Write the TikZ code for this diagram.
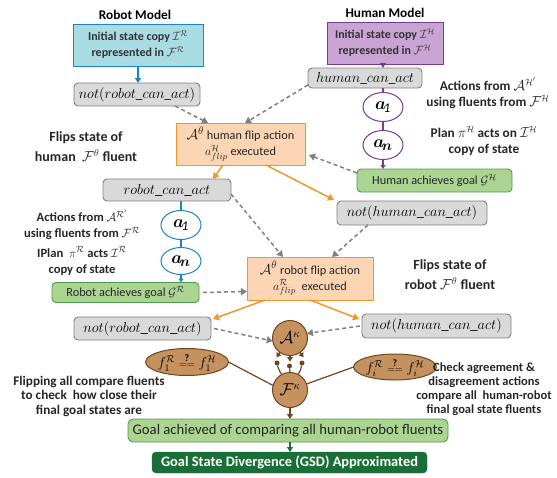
\documentclass[tikz,border=0pt]{standalone}
\usepackage{amsmath,amssymb,bm}
\usepackage{fontspec}
\setmainfont{Carlito}
\usetikzlibrary{arrows.meta,shapes.geometric,calc}
\definecolor{rfill}{HTML}{A9DBE3}
\definecolor{rline}{HTML}{1A85C0}
\definecolor{hfill}{HTML}{C9A3D3}
\definecolor{hline}{HTML}{7C3B93}
\definecolor{gfill}{HTML}{D9D9D9}
\definecolor{gline}{HTML}{808080}
\definecolor{ofill}{HTML}{FCD5B5}
\definecolor{oline}{HTML}{F2962A}
\definecolor{grfill}{HTML}{ABD391}
\definecolor{grline}{HTML}{4E9A4E}
\definecolor{dgreen}{HTML}{1B6E37}
\definecolor{bfill}{HTML}{C4915F}
\definecolor{bline}{HTML}{70461F}
\newcommand{\fs}[1]{\fontsize{#1}{#1}\selectfont}
\tikzset{
  every node/.style={inner sep=0pt, outer sep=0pt},
  title/.style={font=\fs{13.3}\bfseries},
  note/.style={align=center, text=black!85},
  bignote/.style={align=center, font=\fontsize{14}{20}\selectfont\bfseries, text=black!85},
  robotbox/.style={draw=rline, fill=rfill, line width=1pt, align=center, font=\fontsize{12}{16}\selectfont\bfseries, text=black!80},
  humanbox/.style={draw=hline, fill=hfill, line width=1pt, align=center, font=\fontsize{12}{16}\selectfont\bfseries, text=black!80},
  graybox/.style={draw=gline, fill=gfill, rounded corners=4pt, line width=0.9pt},
  flipbox/.style={draw=oline, fill=ofill, line width=1pt, align=center, font=\fontsize{12.3}{16}\selectfont, text=black!85},
  goalbox/.style={draw=grline, fill=grfill, rounded corners=4pt, line width=0.9pt, font=\fs{12.3}, text=black!85},
  act/.style={ellipse, draw, line width=1pt, fill=white, minimum width=40, minimum height=29},
  kappa/.style={circle, draw=bline, fill=bfill, line width=1pt, minimum size=35},
  fcmp/.style={ellipse, draw=bline, fill=bfill, line width=1pt, minimum width=77, minimum height=27},
  dsh/.style={draw=gline, line width=1.5pt, dash pattern=on 4pt off 3pt, -{Triangle[length=6pt,width=7pt]}},
  oarr/.style={draw=oline, line width=1.5pt, -{Triangle[length=6pt,width=7pt]}},
  barr/.style={draw=bline, line width=1.2pt},
  dot/.style={circle, fill=bline, minimum size=5},
}
\begin{document}
\begin{tikzpicture}[x=1pt,y=-1pt]
\useasboundingbox (0,0) rectangle (557,477);

% titles
\node[title] (rm) at (135,15) {Robot Model};
\node[title] (hm) at (385,13) {Human Model};

% robot side
\node[robotbox, minimum width=130, minimum height=42] (ri) at (138,45)
  {Initial state copy $\mathcal{I}^{\mathcal{R}}$\\represented in $\mathcal{F}^{\mathcal{R}}$};
\node[graybox, minimum width=126, minimum height=23, font=\fs{13.3}] (nr1) at (137,94.5) {$not(robot\_can\_act)$};

% human side
\node[humanbox, minimum width=116, minimum height=42] (hi) at (385,43)
  {Initial state copy $\mathcal{I}^{\mathcal{H}}$\\represented in $\mathcal{F}^{\mathcal{H}}$};
\node[graybox, minimum width=114, minimum height=20, font=\fs{13.3}] (hca) at (365,78) {$human\_can\_act$};
\node[act, draw=hline] (ha1) at (383,107) {\fs{19}$\bm{a}_{\!\mathit{1}}$};
\node[act, draw=hline] (han) at (383,145) {\fs{19}$\bm{a}_{\!\bm{n}}$};
\node[goalbox, minimum width=155, minimum height=23] (hg) at (434.5,180.5) {Human achieves goal $\mathcal{G}^{\mathcal{H}}$};
\node[graybox, minimum width=150, minimum height=24, font=\fs{14.4}] (nh1) at (412,213) {$not(human\_can\_act)$};

\node[note, font=\fontsize{13.3}{16}\selectfont\bfseries] (t1) at (488,93) {Actions from $\mathcal{A}^{\mathcal{H}'}$\\using fluents from $\mathcal{F}^{\mathcal{H}}$};
\node[note, font=\fontsize{13.3}{16}\selectfont\bfseries] (t2) at (484,141) {Plan $\pi^{\mathcal{H}}$ acts on $\mathcal{I}^{\mathcal{H}}$\\copy of state};

% human flip
\node[flipbox, minimum width=129, minimum height=42] (hf) at (240.5,144)
  {{\fs{15}$\mathcal{A}^{\theta}$} human flip action\\$a^{\mathcal{H}}_{flip}$ executed};
\node[bignote] (t3) at (86,147) {Flips state of\\human \ $\mathcal{F}^{\theta}$ fluent};

% robot chain
\node[graybox, minimum width=128, minimum height=22, font=\fs{14.8}] (rca) at (167,190) {$robot\_can\_act$};
\node[act, draw=rline] (ra1) at (181,225) {\fs{19}$\bm{a}_{\!\mathit{1}}$};
\node[act, draw=rline, minimum height=27] (ran) at (181,261) {\fs{19}$\bm{a}_{\!\bm{n}}$};
\node[goalbox, minimum width=147, minimum height=20] (rg) at (125.5,292.5) {Robot achieves goal $\mathcal{G}^{\mathcal{R}}$};
\node[note, font=\fontsize{12.6}{16}\selectfont\bfseries] (t4) at (82,225) {Actions from $\mathcal{A}^{\mathcal{R}'}$\\using fluents from $\mathcal{F}^{\mathcal{R}}$};
\node[note, font=\fontsize{12.6}{16}\selectfont\bfseries] (t5) at (82,261) {IPlan \ $\pi^{\mathcal{R}}$ acts $\mathcal{I}^{\mathcal{R}}$\\copy of state};

% robot flip
\node[flipbox, minimum width=126, minimum height=43] (rf) at (310,278.5)
  {{\fs{15}$\mathcal{A}^{\theta}$} robot flip action\\$a^{\mathcal{R}}_{flip}$ \ executed};
\node[bignote] (t6) at (450,275) {Flips state of\\robot $\mathcal{F}^{\theta}$ fluent};

\node[graybox, minimum width=137, minimum height=23, font=\fs{15}] (nr2) at (142.5,328.5) {$not(robot\_can\_act)$};
\node[graybox, minimum width=149, minimum height=24, font=\fs{14.6}] (nh2) at (436.5,326) {$not(human\_can\_act)$};

% kappa
\node[kappa] (Ak) at (290,338) {\fs{16}$\mathcal{A}^{\kappa}$};
\node[kappa] (Fk) at (290,390) {\fs{16}$\mathcal{F}^{\kappa}$};
\node[fcmp] (f1) at (187,362) {\fs{14}$f^{\mathcal{R}}_1\mathrel{\overset{\textbf{?}}{\scriptstyle ==}}f^{\mathcal{H}}_1$};
\node[fcmp, minimum height=26] (fi) at (395,367) {\fs{14}$f^{\mathcal{R}}_i\mathrel{\overset{\textbf{?}}{\scriptstyle ==}}f^{\mathcal{H}}_i$};
\node[dot] (d1) at (277,363) {};
\node[dot] (d2) at (289.5,366) {};
\node[dot] (d3) at (302,363) {};

\node[note, font=\fontsize{13.2}{14.5}\selectfont\bfseries] (t7) at (89,396) {Flipping all compare fluents\\to check \ how close their\\final goal states are};
\node[note, font=\fontsize{12.5}{14}\selectfont\bfseries] (t8) at (484,389) {Check agreement \&\\disagreement actions\\compare all \ human-robot\\final goal state fluents};

\node[goalbox, rounded corners=5pt, minimum width=320, minimum height=23, font=\fs{14.7}] (ga) at (288,430.5) {Goal achieved of comparing all human-robot fluents};
\node[draw=dgreen, fill=dgreen, rounded corners=4pt, minimum width=275, minimum height=21, text=white, font=\fs{14.4}\bfseries] (gsd) at (289.5,462.5) {Goal State Divergence (GSD) Approximated};

% connectors: solid model arrows
\draw[rline, line width=1.5pt, -{Triangle[length=5pt,width=6pt]}] (ri.south) -- (ri.south |- nr1.north);
\draw[hline, line width=1.5pt, -{Triangle[length=5pt,width=6pt]}] (ha1.north |- hi.south) -- (ha1.north |- hca.north);
\draw[hline, line width=1.2pt] (ha1.north |- hca.south) -- (ha1.north);
\draw[hline, line width=1.2pt] (ha1.south) -- (han.north);
\draw[hline, line width=1.2pt, -{Triangle[length=4pt,width=5pt]}] (han.south) -- (han.south |- hg.north);
\draw[rline, line width=1.2pt] (ra1.north |- rca.south) -- (ra1.north);
\draw[rline, line width=1.2pt] (ra1.south) -- (ran.north);
\draw[rline, line width=1.2pt, -{Triangle[length=4pt,width=5pt]}] (ran.south) -- (ran.south |- rg.north);

% dashed gray
\draw[dsh] ([xshift=-25pt]nr1.south east) -- ([xshift=32pt]hf.north west);
\draw[dsh] ([yshift=3pt]hca.south west) -- ([xshift=69pt]hf.north west);
\draw[dsh] ([yshift=-4pt]hg.north west) -- ([xshift=4pt,yshift=-11pt]hf.east);
\draw[dsh] ([yshift=-4pt]rca.east) -- ([xshift=36pt]rf.north west);
\draw[dsh] ([xshift=31pt]nh1.south west) -- ([xshift=85pt]rf.north west);
\draw[dsh] ([xshift=4pt]rg.east) -- ([yshift=-13pt]rf.west);
\draw[dsh] ([xshift=3pt]nr2.east) -- (Ak.190);
\draw[dsh] ([xshift=-2pt]nh2.west) -- (Ak.15);

% orange
\draw[oarr] ([xshift=47pt]hf.south west) -- ([xshift=46pt]rca.north);
\draw[oarr] ([xshift=90pt]hf.south west) -- ([xshift=-3pt,yshift=1pt]nh1.north west);
\draw[oarr] ([xshift=18pt]rf.south west) -- ([xshift=2pt,yshift=-2pt]nr2.north east);
\draw[oarr] ([xshift=63pt]rf.south west) -- ([xshift=-3pt,yshift=-5pt]nh2.north west);

% kappa details
\foreach \a in {-125,-90,-55}
  \draw[bline, line width=1.3pt, -{Triangle[length=4.5pt,width=5.5pt]}] (Ak.\a) -- ($(Ak.center)!1.35!(Ak.\a)$);
\draw[barr] (Fk.118) to[bend left=10] (d1);
\draw[barr] (Fk.north) -- (d2);
\draw[barr] (Fk.62) to[bend right=10] (d3);
\draw[barr] (f1.east) -- (Fk.165);
\draw[barr] (Fk.20) -- (fi.west);
\draw[bline, line width=1.2pt, -{Triangle[length=5pt,width=6pt]}] (Fk.south) -- (Fk.south |- ga.north);
\draw[dgreen, line width=1.2pt, -{Triangle[length=5pt,width=6pt]}] (Fk.south |- ga.south) -- (Fk.south |- gsd.north);
\end{tikzpicture}
\end{document}
